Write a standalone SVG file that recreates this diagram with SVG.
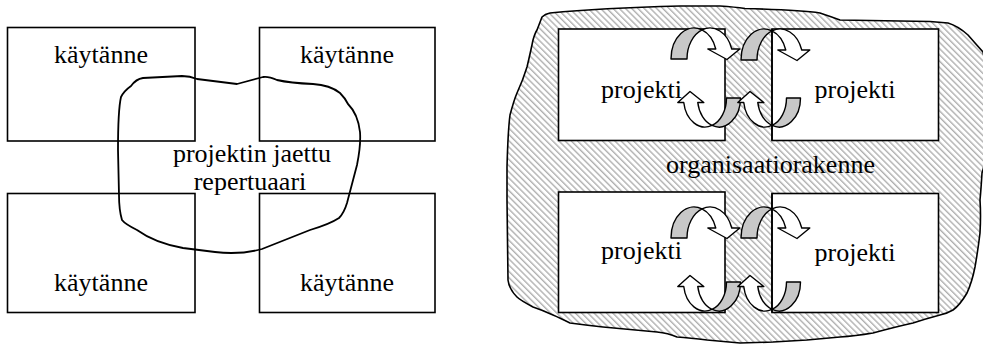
<svg xmlns="http://www.w3.org/2000/svg" xmlns:xlink="http://www.w3.org/1999/xlink" width="983" height="346" viewBox="0 0 983 346">
  <style>
    .box { fill: #ffffff; stroke: #000000; stroke-width: 1.6; }
    .edge { fill: none; stroke: #000000; stroke-width: 1.6; }
    .outline { fill: none; stroke: #000000; stroke-width: 1.8; stroke-linejoin: round; }
    .area { fill: url(#hatch); stroke: #000000; stroke-width: 1.6; stroke-linejoin: round; }
    .lbl { font-family: "Liberation Serif", serif; font-size: 26px; fill: #000000; text-anchor: middle; }
    .back { fill: #c8c8c8; stroke: #000000; stroke-width: 1.4; stroke-linejoin: round; }
    .front { fill: #ffffff; stroke: #000000; stroke-width: 1.4; stroke-linejoin: round; }
  </style>
  <defs>
    <!-- diagonal hatching for the organisation area -->
    <pattern id="hatch" width="4.4" height="4.4" patternUnits="userSpaceOnUse" patternTransform="rotate(-45)">
      <rect width="4.4" height="4.4" fill="#ffffff"/>
      <rect width="1.4" height="4.4" fill="#b0b0b0"/>
    </pattern>
    <!-- twisted ribbon arrow over the top, head pointing down on the right;
         two equal ellipses offset sideways, crossing at the origin column -->
    <g id="arch">
      <path class="back" d="M -31 0 A 23 31 0 0 1 0 -29.07 A 23 31 0 0 0 -15 0 Z"/>
      <path class="front" d="M 0 -29.07 A 23 31 0 0 1 29.77 -10 L 37.8 -10 L 25 0.5 L 5.8 -10 L 13.77 -10 A 23 31 0 0 0 0 -29.07 Z"/>
    </g>
    <!-- twisted ribbon arrow under the bottom, head pointing up on the left -->
    <g id="cup">
      <path class="back" d="M 28.5 0 A 21.5 29 0 0 1 0 27.42 A 21.5 29 0 0 0 14.5 0 Z"/>
      <path class="front" d="M 0 27.42 A 21.5 29 0 0 1 -28.24 4.5 L -34.2 4.5 L -22 -6.5 L -8.2 4.5 L -14.24 4.5 A 21.5 29 0 0 0 0 27.42 Z"/>
    </g>
  </defs>

  <rect width="983" height="346" fill="#ffffff"/>

  <!-- left: four practices sharing one repertoire -->
  <g id="practice-tl">
    <rect class="box" x="7.5" y="27.5" width="187.5" height="113.5"/>
    <text class="lbl" x="101" y="63">käytänne</text>
  </g>
  <g id="practice-tr">
    <rect class="box" x="259.5" y="27.5" width="175.5" height="113.5"/>
    <text class="lbl" x="347" y="63">käytänne</text>
  </g>
  <g id="practice-bl">
    <rect class="box" x="7.5" y="193.5" width="187.5" height="119"/>
    <text class="lbl" x="101" y="291">käytänne</text>
  </g>
  <g id="practice-br">
    <rect class="box" x="259.5" y="193.5" width="175.5" height="119"/>
    <text class="lbl" x="347" y="291">käytänne</text>
  </g>
  <g id="repertoire">
    <path class="outline" d="M 143 78 L 182 76 Q 190 76 197 79 L 237 84 L 263 77 Q 268 76 277 80 Q 290 83 313 84 Q 330 85 340 93 Q 345 98 348 104 Q 358 114 360 132 Q 361 145 357 165 L 347 203 Q 344 213 339 218 Q 330 224 310 230 L 262 249 Q 240 255 215 252 L 183 248 Q 155 243 137 230 Q 125 224 122 220 Q 119 210 119 195 L 118 150 Q 118 110 121 97 Q 124 91 131 86 Q 136 79 143 78 Z"/>
    <text class="lbl" x="252" y="162">projektin jaettu</text>
    <text class="lbl" x="250" y="190">repertuaari</text>
  </g>

  <!-- right: projects inside the organisation structure -->
  <g id="organisation">
    <path class="area" d="M 537 30 L 542 17 Q 545 14 550 13 Q 600 8 680 6 L 720 6 Q 735 7 745 8.5 Q 800 10 820 13 Q 832 17 840 20 L 930 21.5 L 948 23 Q 958 26 968 35 Q 975 43 983 52 C 990 80 990 150 982 173 Q 981 190 980 200 Q 981 215 980 233 Q 978 250 975 267 Q 972 282 967 293 Q 960 305 953 310 Q 946 314 940 315 Q 925 319 913 323 Q 895 327 873 333 Q 855 336 840 337 L 807 340 L 773 342 L 740 343 L 707 340 Q 690 338 677 337 Q 668 333 657 332 L 603 327 Q 585 325 570 323 Q 560 318 553 315 Q 542 310 533 307 Q 520 300 517 297 Q 509 289 508 280 L 507 200 L 507 167 Q 508 130 510 115 Q 514 100 517 93 Q 523 80 527 67 Q 531 50 533 40 Q 535 33 537 30 Z"/>
    <text class="lbl" x="770.5" y="173">organisaatiorakenne</text>
  </g>
  <g id="project-tl">
    <rect class="box" x="558.5" y="29" width="166.5" height="111.5"/>
    <text class="lbl" x="641.5" y="97.5">projekti</text>
  </g>
  <g id="project-tr">
    <rect class="box" x="772" y="29" width="166.5" height="111.5"/>
    <text class="lbl" x="855" y="97.5">projekti</text>
  </g>
  <g id="project-bl">
    <rect class="box" x="558.5" y="192" width="166.5" height="120.5"/>
    <text class="lbl" x="641.5" y="259">projekti</text>
  </g>
  <g id="project-br">
    <rect class="box" x="772" y="193.5" width="166.5" height="119"/>
    <text class="lbl" x="855" y="260.5">projekti</text>
  </g>

  <!-- exchange arrows between neighbouring projects -->
  <g id="connectors">
    <use xlink:href="#arch" href="#arch" transform="translate(702 59)"/>
    <use xlink:href="#arch" href="#arch" transform="translate(772 60)"/>
    <use xlink:href="#cup" href="#cup" transform="translate(712 98)"/>
    <use xlink:href="#cup" href="#cup" transform="translate(772 98)"/>
    <use xlink:href="#arch" href="#arch" transform="translate(702 238)"/>
    <use xlink:href="#arch" href="#arch" transform="translate(772 238)"/>
    <use xlink:href="#cup" href="#cup" transform="translate(712 282)"/>
    <use xlink:href="#cup" href="#cup" transform="translate(772 282)"/>
  </g>

  <!-- left border of the right-hand projects stays visible over the arrows -->
  <g id="project-edges">
    <line class="edge" x1="772" y1="29" x2="772" y2="140.5"/>
    <line class="edge" x1="772" y1="193.5" x2="772" y2="312.5"/>
  </g>
</svg>
